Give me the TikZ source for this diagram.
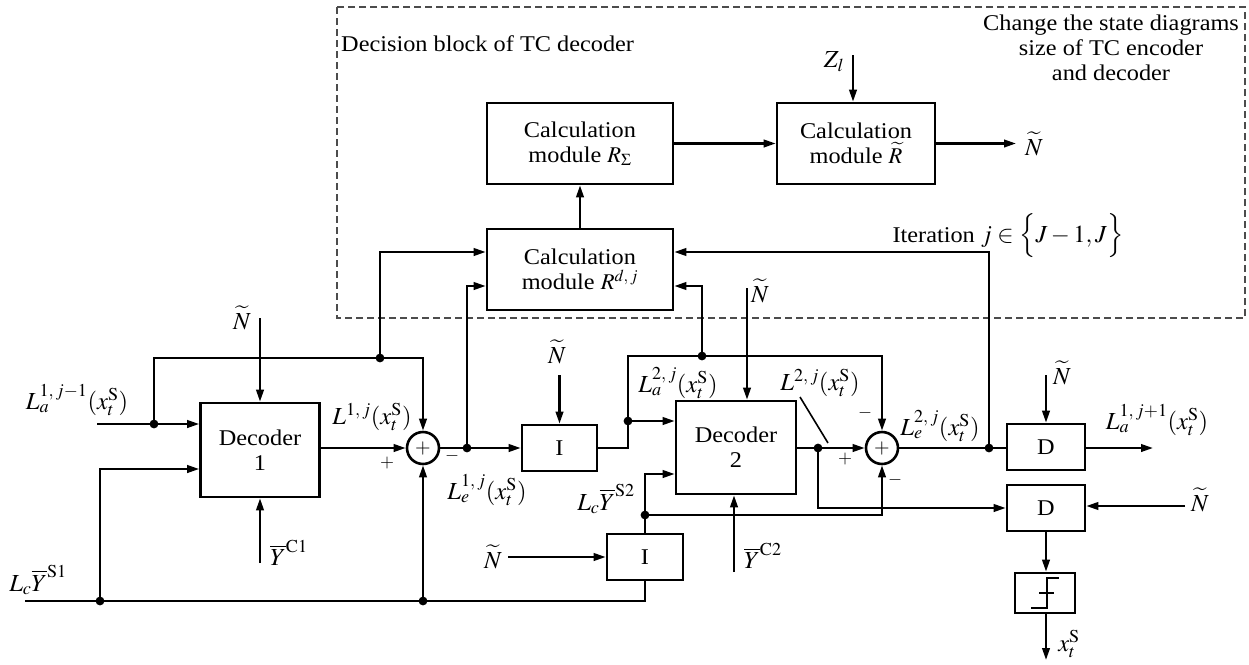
\documentclass[tikz,border=0pt]{standalone}
\usepackage{mathptmx}
\usepackage{fontspec}
\setmainfont{Liberation Serif}[FakeStretch=1.08]
\usetikzlibrary{arrows.meta}
\begin{document}
\begin{tikzpicture}[x=1pt,y=-1pt,
  font=\fontsize{22.5}{25}\selectfont,
  blk/.style={draw,line width=2.6pt,inner sep=0pt,align=center,fill=white},
  conn/.style={line width=2.3pt},
  arr/.style={conn,-{Triangle[length=12pt,width=7.5pt]}},
  sumc/.style={draw,circle,line width=2.6pt,minimum size=32pt,inner sep=0pt,font=\fontsize{20}{22}\selectfont},
  lbl/.style={inner sep=0pt,font=\fontsize{24.5}{26}\selectfont},
  sgn/.style={inner sep=0pt,font=\fontsize{18}{20}\selectfont}]
\useasboundingbox (0,0) rectangle (1249,664);
% dashed decision block
\draw[gray!60!black,line width=1.6pt,dash pattern=on 7pt off 4pt] (337,7) rectangle (1245,318);
\node[inner sep=0pt,anchor=west] (tDB) at (341,44) {Decision block of TC decoder};
\node[inner sep=0pt,align=center] (tCh) at (1111,48) {Change the state diagrams\\size of TC encoder\\and decoder};
% blocks
\node[blk,minimum width=119pt,minimum height=94pt] (Dec1) at (260,450) {Decoder\\1};
\node[blk,minimum width=120pt,minimum height=93pt] (Dec2) at (736,447.5) {Decoder\\2};
\node[blk,minimum width=186pt,minimum height=81pt] (RS) at (580,143.5) {Calculation\\module $R_\Sigma$};
\node[blk,minimum width=158pt,minimum height=81pt] (RT) at (856,143.5) {Calculation\\module $\widetilde{R}$};
\node[blk,minimum width=186pt,minimum height=81pt] (Rdj) at (580,269.5) {Calculation\\module $R^{d,\,j}$};
\node[blk,minimum width=75pt,minimum height=46pt] (I1) at (559.5,448) {I};
\node[blk,minimum width=76pt,minimum height=46pt] (I2) at (645,557) {I};
\node[blk,minimum width=78pt,minimum height=46pt] (D1) at (1046,447) {D};
\node[blk,minimum width=78pt,minimum height=46pt] (D2) at (1046,508) {D};
\node[blk,minimum width=60pt,minimum height=40pt] (Th) at (1045,593) {};
\draw[line width=2.2pt] (1031,608) -- (1047,608) -- (1047,578) -- (1059,578);
\draw[line width=2.2pt] (1039,593) -- (1054,593);
\node[sumc] (S1) at (423,448) {$+$};
\node[sumc] (S2) at (882,448) {$+$};
% coordinates
\coordinate (inA) at (97,424);
\coordinate (dA) at (154,424);
\coordinate (tA) at (154,358);
\coordinate (dB) at (380,358);
\coordinate (rA) at (380,252);
\coordinate (ls1) at (25,601);
\coordinate (dC) at (100,601);
\coordinate (dCt) at (100,469);
\coordinate (dD) at (423,601);
\coordinate (n1) at (260,318);
\coordinate (yc1) at (260,563);
\coordinate (dE) at (467,448);
\coordinate (rB) at (467,286);
\coordinate (n2) at (558,375);
\coordinate (bI) at (628,448);
\coordinate (dF) at (628,421);
\coordinate (tF) at (628,356);
\coordinate (dG) at (702,356);
\coordinate (rC) at (702,286);
\coordinate (n3) at (747,288);
\coordinate (yc2) at (734,572);
\coordinate (dH) at (645,515);
\coordinate (tH) at (645,474);
\coordinate (n4) at (508,557);
\coordinate (dK) at (818,448);
\coordinate (bK) at (818,508);
\coordinate (dL) at (989,448);
\coordinate (rD) at (989,252);
\coordinate (n5) at (1046,375);
\coordinate (o1) at (1153,448);
\coordinate (n6) at (1185,506);
\coordinate (xo) at (1046,660);
\coordinate (zl) at (853,55);
\coordinate (o2) at (1016,143.5);
\coordinate (ld1) at (800,397);
\coordinate (ld2) at (828,443);
% connectors: decoder 1 side
\draw[arr] (inA) -- (Dec1.west |- inA);
\draw[arr] (dA) -- (tA) -- (S1.north |- tA) -- (S1.north);
\draw[arr] (dB) -- (rA) -- (Rdj.west |- rA);
\draw[conn] (ls1) -- (I2.south |- ls1) -- (I2.south);
\draw[arr] (dC) -- (dCt) -- (Dec1.west |- dCt);
\draw[arr] (dD) -- (S1.south);
\draw[arr] (n1) -- (Dec1.north);
\draw[arr] (yc1) -- (Dec1.south);
\draw[arr] (Dec1.east |- S1) -- (S1.west);
\draw[arr] (S1.east) -- (I1.west);
\draw[arr] (dE) -- (rB) -- (Rdj.west |- rB);
\draw[arr] (I1.north |- n2) -- (I1.north);
% decoder 2 side
\draw[conn] (I1.east) -- (bI) -- (dF);
\draw[arr] (dF) -- (Dec2.west |- dF);
\draw[arr] (dF) -- (tF) -- (S2.north |- tF) -- (S2.north);
\draw[arr] (dG) -- (rC) -- (Rdj.east |- rC);
\draw[arr] (n3) -- (Dec2.north -| n3);
\draw[arr] (yc2) -- (Dec2.south -| yc2);
\draw[arr] (I2.north) -- (tH) -- (Dec2.west |- tH);
\draw[arr] (dH) -- (S2.south |- dH) -- (S2.south);
\draw[arr] (n4) -- (I2.west);
\draw[arr] (Dec2.east |- S2) -- (S2.west);
\draw[arr] (dK) -- (bK) -- (D2.west |- bK);
\draw[conn] (S2.east) -- (D1.west |- S2);
\draw[arr] (dL) -- (rD) -- (Rdj.east |- rD);
\draw[arr] (n5) -- (D1.north);
\draw[arr] (D1.east |- o1) -- (o1);
\draw[arr] (n6) -- (D2.east |- n6);
\draw[arr] (D2.south) -- (D2.south |- Th.north);
\draw[arr] (Th.south -| xo) -- (xo);
% upper block
\draw[arr] (Rdj.north) -- (RS.south);
\draw[arr] (RS.east) -- (RT.west);
\draw[arr] (zl) -- (RT.north -| zl);
\draw[arr] (RT.east) -- (o2);
\draw[line width=1.6pt] (ld1) -- (ld2);
% junction dots
\foreach \p in {dA,dB,dC,dD,dE,dF,dG,dH,dK,dL} \fill (\p) circle (4.4pt);
% labels
\node[lbl] (lN1) at (242,318) {$\widetilde{N}$};
\node[lbl] (lLa1) at (77,400) {$L_a^{1,\,j-1}(x_t^{\mathrm{S}})$};
\node[lbl] (lL1) at (372,417) {$L^{1,\,j}(x_t^{\mathrm{S}})$};
\node[sgn] (p1) at (387,463) {$+$};
\node[sgn] (m1) at (452,456) {$-$};
\node[lbl] (lLc1) at (38,580) {$L_c\overline{Y}^{\mathrm{S1}}$};
\node[lbl] (lYC1) at (289,553) {$\overline{Y}^{\mathrm{C1}}$};
\node[lbl] (lLe1) at (487,490) {$L_e^{1,\,j}(x_t^{\mathrm{S}})$};
\node[lbl] (lN2) at (557,352) {$\widetilde{N}$};
\node[lbl] (lLa2) at (678,383) {$L_a^{2,\,j}(x_t^{\mathrm{S}})$};
\node[lbl] (lN3) at (760,291) {$\widetilde{N}$};
\node[lbl] (lL2) at (820,383) {$L^{2,\,j}(x_t^{\mathrm{S}})$};
\node[lbl] (lLc2) at (606,499) {$L_c\overline{Y}^{\mathrm{S2}}$};
\node[lbl] (lN4) at (493,557) {$\widetilde{N}$};
\node[lbl] (lYC2) at (763,556) {$\overline{Y}^{\mathrm{C2}}$};
\node[sgn] (p2) at (845,459) {$+$};
\node[sgn] (m2) at (865,413) {$-$};
\node[sgn] (m3) at (895,480) {$-$};
\node[lbl] (lLe2) at (940,426) {$L_e^{2,\,j}(x_t^{\mathrm{S}})$};
\node[lbl] (lN5) at (1062,373) {$\widetilde{N}$};
\node[lbl] (lLa3) at (1157,420) {$L_a^{1,\,j+1}(x_t^{\mathrm{S}})$};
\node[lbl] (lN6) at (1200,500) {$\widetilde{N}$};
\node[lbl] (lxo) at (1069,644) {$x_t^{\mathrm{S}}$};
\node[lbl] (lZ) at (834,62) {$Z_l$};
\node[lbl] (lN7) at (1034,144) {$\widetilde{N}$};
\node[inner sep=0pt] (lIt) at (1008,236) {Iteration \fontsize{24.5}{26}\selectfont$j\in\Bigl\{J-1,J\Bigr\}$};
\end{tikzpicture}
\end{document}
